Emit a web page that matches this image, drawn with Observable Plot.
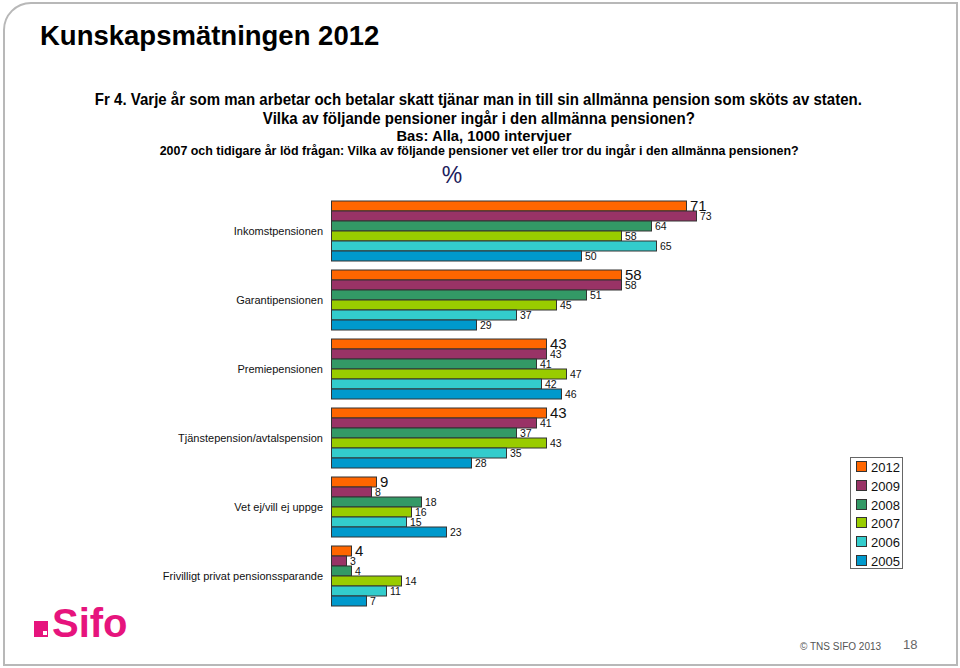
<!DOCTYPE html>
<html>
<head>
<meta charset="utf-8">
<script src="https://cdn.jsdelivr.net/npm/d3@7"></script>
<script src="https://cdn.jsdelivr.net/npm/@observablehq/plot@0.6"></script>
<style>
  html, body { margin: 0; padding: 0; background: #fff; }
  #page { position: relative; width: 960px; height: 668px; overflow: hidden; font-family: "Liberation Sans", Arial, sans-serif; }
  #frame { position: absolute; left: 3px; top: 2px; width: 951px; height: 660px; border: 2px solid #b8b8b8; border-top-left-radius: 28px; pointer-events: none; }
  #chart { position: absolute; left: 0; top: 0; }
  .abs { position: absolute; white-space: nowrap; }
  #title { left: 40px; top: 19px; font-size: 27.5px; font-weight: bold; color: #000; line-height: 34px; }
  .line { transform-origin: 50% 50%; color: #000; font-weight: bold; line-height: 1; }
  #pct { left: 452px; top: 164px; transform: translateX(-50%); font-size: 23px; color: #1c1c5c; line-height: 1; }
  #legend { left: 850px; top: 457px; width: 51px; height: 110px; border: 1px solid #666; background: #fff; }
  .li { position: absolute; left: 5px; font-size: 13px; line-height: 13px; color: #111; }
  .sw { display: inline-block; width: 9px; height: 9px; border: 1px solid #333; margin-right: 4px; vertical-align: 0px; }
  #logo { left: 52px; top: 601px; font-size: 40px; font-weight: bold; color: #e6147d; line-height: 44px; }
  #sq { left: 34px; top: 621px; width: 14px; height: 16px; background: #e6147d; }
  #sqi { left: 43px; top: 631px; width: 4px; height: 4px; background: #fff; }
  #copy { left: 800px; top: 641px; font-size: 10px; color: #555; }
  #pg { left: 903px; top: 637px; font-size: 13px; color: #666; }
</style>
</head>
<body>
<div id="page">
  <div id="chart"></div>
  <div id="frame"></div>
  <div class="abs" id="title">Kunskapsmätningen 2012</div>
  <div class="abs line" id="l1" style="font-size:16.5px;">Fr 4. Varje år som man arbetar och betalar skatt tjänar man in till sin allmänna pension som sköts av staten.</div>
  <div class="abs line" id="l2" style="font-size:16.5px;">Vilka av följande pensioner ingår i den allmänna pensionen?</div>
  <div class="abs line" id="l3" style="font-size:15px;">Bas: Alla, 1000 intervjuer</div>
  <div class="abs line" id="l4" style="font-size:12.5px;">2007 och tidigare år löd frågan: Vilka av följande pensioner vet eller tror du ingår i den allmänna pensionen?</div>
  <div class="abs" id="pct">%</div>
  <div class="abs" id="legend"></div>
  <div class="abs" id="sq"></div>
  <div class="abs" id="sqi"></div>
  <div class="abs" id="logo">Sifo</div>
  <div class="abs" id="copy">© TNS SIFO 2013</div>
  <div class="abs" id="pg">18</div>
</div>
<script>
// ---- data ----
const categories = [
  "Inkomstpensionen",
  "Garantipensionen",
  "Premiepensionen",
  "Tjänstepension/avtalspension",
  "Vet ej/vill ej uppge",
  "Frivilligt privat pensionssparande"
];
const years = ["2012", "2009", "2008", "2007", "2006", "2005"];
const v2012 = [71, 58, 43, 43, 9, 4];
const v2009 = [73, 58, 43, 41, 8, 3];
const v2008 = [64, 51, 41, 37, 18, 4];
const v2007 = [58, 45, 47, 43, 16, 14];
const v2006 = [65, 37, 42, 35, 15, 11];
const v2005 = [50, 29, 46, 28, 23, 7];
const colors = ["#ff6600", "#993366", "#339966", "#99cc00", "#33cccc", "#0099cc"];

const series = [v2012, v2009, v2008, v2007, v2006, v2005];
const data = [];
categories.forEach((c, i) => years.forEach((y, j) => data.push({category: c, year: y, value: series[j][i]})));

const chart = Plot.plot({
  width: 960,
  height: 668,
  marginLeft: 331.5,
  marginRight: 128.5,
  marginTop: 198,
  marginBottom: 60,
  style: {fontFamily: "Liberation Sans, Arial, sans-serif", fontSize: "11px", background: "transparent", color: "#111"},
  x: {domain: [0, 100], axis: null},
  y: {domain: years, axis: null, padding: 0},
  fy: {domain: categories, paddingInner: 0.0866, paddingOuter: 0, axis: "left", label: null, tickSize: 0, tickPadding: 9},
  color: {domain: years, range: colors},
  marks: [
    Plot.barX(data, {x: "value", y: "year", fy: "category", fill: "year", stroke: "#333", strokeWidth: 1}),
    Plot.text(data.filter(d => d.year !== "2012"), {x: "value", y: "year", fy: "category", text: d => String(d.value), dx: 3, dy: 0.5, textAnchor: "start", fontSize: 10.5, fill: "#111"}),
    Plot.text(data.filter(d => d.year === "2012"), {x: "value", y: "year", fy: "category", text: d => String(d.value), dx: 3, dy: -0.5, textAnchor: "start", fontSize: 15, fill: "#111"})
  ]
});
document.getElementById("chart").appendChild(chart);

// legend
const leg = document.getElementById("legend");
years.forEach((y, i) => {
  const d = document.createElement("div");
  d.className = "li";
  d.style.top = (3 + i * 18.8) + "px";
  d.innerHTML = `<span class="sw" style="background:${colors[i]}"></span>${y}`;
  leg.appendChild(d);
});

// header lines: [id, center x, top, target width]
const lines = [["l1", 478.5, 91, 767], ["l2", 479, 110, 432], ["l3", 484, 128.3, 175], ["l4", 479.5, 145.4, 639]];
lines.forEach(([id, cx, top, tw]) => {
  const el = document.getElementById(id);
  const w = el.getBoundingClientRect().width;
  el.style.left = (cx - w / 2) + "px";
  el.style.top = top + "px";
  el.style.transform = `scaleX(${tw / w})`;
});
</script>
</body>
</html>
